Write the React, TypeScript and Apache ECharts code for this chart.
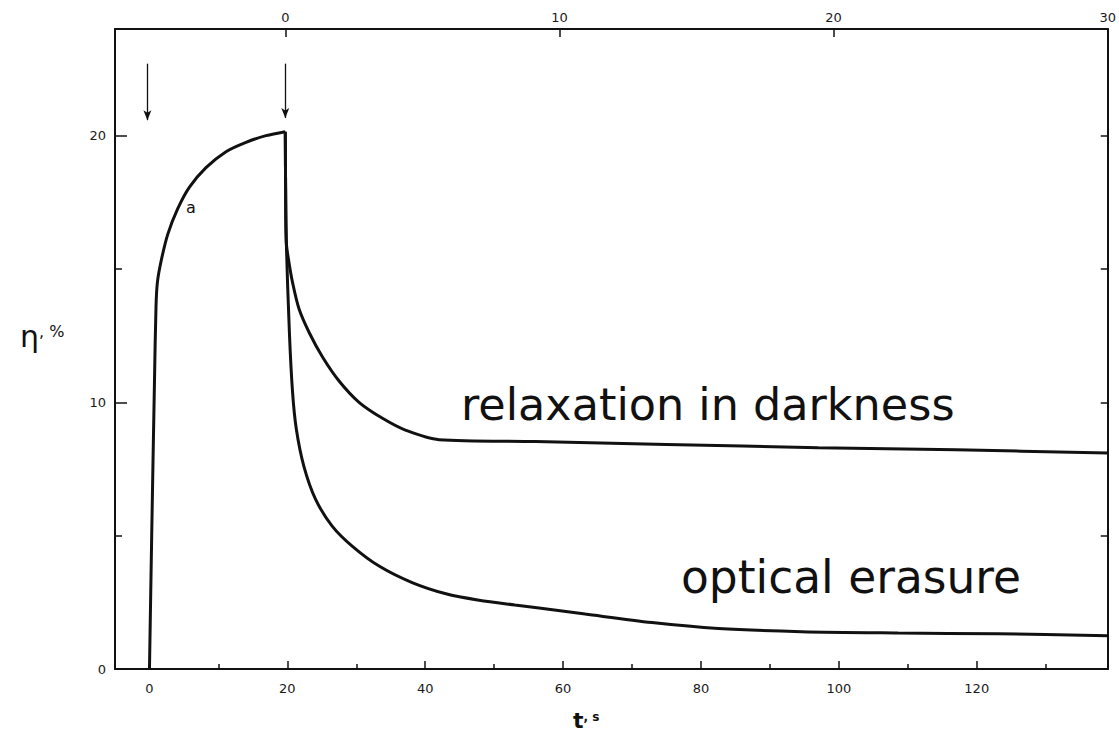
import { useEffect, useRef } from "react";
import * as echarts from "echarts";

// Diffraction efficiency η (%) versus time t (s)
// Writing: beam switched on at t = 0, off at t ≈ 19.7
const riseT = [0, 0.33, 0.72, 0.95, 1.15, 1.69, 2.65, 4.1, 5.8, 8.2, 11.1, 14.0, 16.9, 19.7];
const riseEta = [0, 5.1, 10.7, 13.6, 14.5, 15.3, 16.3, 17.26, 18.07, 18.8, 19.4, 19.75, 20.0, 20.15];

// Decay after switch-off, kept in the dark
const relaxT = [19.7, 19.75, 19.85, 20.2, 20.75, 21.7, 23.2, 25.1, 27.5, 30.4, 33.8, 37.2, 42, 56, 75, 97, 117, 139];
const relaxEta = [20.15, 18.0, 16.0, 15.3, 14.5, 13.5, 12.6, 11.7, 10.8, 10.0, 9.4, 8.95, 8.6, 8.53, 8.42, 8.3, 8.22, 8.1];

// Decay under erasing illumination
const eraseT = [19.7, 19.75, 19.85, 20.3, 20.75, 21.3, 22.4, 24.1, 26.5, 29.4, 33.3, 38.1, 43, 47.8, 53, 56.5, 63.2, 72.9, 82.5, 94.6, 108.6, 123, 139];
const eraseEta = [20.15, 18.0, 16.0, 12.6, 10.4, 9.0, 7.6, 6.36, 5.36, 4.61, 3.86, 3.24, 2.82, 2.58, 2.4, 2.29, 2.06, 1.74, 1.52, 1.4, 1.35, 1.32, 1.25];

// Switching instants marked by arrows (t, arrow tail η, arrow head η)
const arrowT = [-0.3, 19.7];
const arrowTail = [22.7, 22.7];
const arrowHead = [20.58, 20.66];

// Axis ranges and ticks
const X_MIN = -5;
const X_MAX = 139;
const Y_MIN = 0;
const Y_MAX = 24;
const bottomMajor = [0, 20, 40, 60, 80, 100, 120];
const bottomMinor = [10, 30, 50, 70, 90, 110, 130];
const bottomLabels = [0, 20, 40, 60, 80, 100, 120];
const topTicks = [0, 10, 20, 30];
const TOP_ZERO = 19.7; // upper time scale restarts at switch-off
const TOP_UNIT = (X_MAX - TOP_ZERO) / 30; // lower-scale seconds per upper unit
const leftMajor = [0, 10, 20];
const leftMinor = [5, 15];
const leftLabels = [0, 10, 20];
const rightTicks = [5, 10, 15, 20];

const zip = (xs: number[], ys: number[]) => xs.map((x, i) => [x, ys[i]]);

export default function App() {
  const ref = useRef<HTMLDivElement>(null);

  useEffect(() => {
    if (!ref.current) return;
    const chart = echarts.init(ref.current, null, { renderer: "svg" });
    const ink = "#111";
    const tickFont = { fontFamily: "DejaVu Sans", fontSize: 13, color: "#1a1a1a" };
    const axisLine = { show: true, onZero: false, lineStyle: { color: ink, width: 2 } };
    const hiddenLine = { show: false, onZero: false };
    const noSplit = { show: false };
    const tickStyle = { color: ink, width: 1.5 };
    const curve = {
      type: "line",
      showSymbol: false,
      smooth: 0.3,
      lineStyle: { color: ink, width: 3 },
      xAxisIndex: 0,
      yAxisIndex: 0,
      silent: true,
    };
    const bigText = { fontFamily: "DejaVu Sans", fill: "#111", verticalAlign: "bottom" };

    chart.setOption({
      animation: false,
      backgroundColor: "#ffffff",
      grid: { left: 115, right: 9, top: 29, bottom: 67 },
      xAxis: [
        {
          type: "value",
          position: "bottom",
          min: X_MIN,
          max: X_MAX,
          axisLine,
          splitLine: noSplit,
          axisTick: { show: true, inside: true, length: 8, customValues: bottomMajor, lineStyle: tickStyle },
          axisLabel: { customValues: bottomLabels, margin: 13, ...tickFont },
        },
        {
          type: "value",
          position: "bottom",
          min: X_MIN,
          max: X_MAX,
          axisLine: hiddenLine,
          splitLine: noSplit,
          axisTick: { show: true, inside: true, length: 5, customValues: bottomMinor, lineStyle: tickStyle },
          axisLabel: { show: false },
        },
        {
          type: "value",
          position: "top",
          min: (X_MIN - TOP_ZERO) / TOP_UNIT,
          max: 30,
          axisLine,
          splitLine: noSplit,
          axisTick: { show: true, inside: true, length: 8, customValues: topTicks, lineStyle: tickStyle },
          axisLabel: { customValues: topTicks, margin: 5, ...tickFont },
        },
      ],
      yAxis: [
        {
          type: "value",
          position: "left",
          min: Y_MIN,
          max: Y_MAX,
          axisLine,
          splitLine: noSplit,
          axisTick: { show: true, inside: true, length: 12, customValues: leftMajor, lineStyle: tickStyle },
          axisLabel: { customValues: leftLabels, margin: 9, ...tickFont },
        },
        {
          type: "value",
          position: "left",
          min: Y_MIN,
          max: Y_MAX,
          axisLine: hiddenLine,
          splitLine: noSplit,
          axisTick: { show: true, inside: true, length: 7, customValues: leftMinor, lineStyle: tickStyle },
          axisLabel: { show: false },
        },
        {
          type: "value",
          position: "right",
          min: Y_MIN,
          max: Y_MAX,
          axisLine,
          splitLine: noSplit,
          axisTick: { show: true, inside: true, length: 7, customValues: rightTicks, lineStyle: tickStyle },
          axisLabel: { show: false },
        },
      ],
      series: [
        {
          ...curve,
          name: "writing",
          data: zip(riseT, riseEta),
          markLine: {
            silent: true,
            symbol: ["none", "arrow"],
            symbolSize: [6, 10],
            label: { show: false },
            lineStyle: { color: ink, width: 1.3, type: "solid" },
            data: arrowT.map((t, i) => [{ coord: [t, arrowTail[i]] }, { coord: [t, arrowHead[i]] }]),
          },
        },
        { ...curve, name: "relaxation in darkness", data: zip(relaxT, relaxEta) },
        { ...curve, name: "optical erasure", data: zip(eraseT, eraseEta) },
      ],
      graphic: [
        {
          type: "text",
          left: 186,
          top: 199,
          style: { text: "a", fontFamily: "DejaVu Sans", fontSize: 16, fill: ink },
        },
        {
          type: "text",
          x: 461,
          y: 427,
          style: { text: "relaxation in darkness", fontSize: 44.5, ...bigText },
        },
        {
          type: "text",
          x: 681,
          y: 600,
          style: { text: "optical erasure", fontSize: 45.5, ...bigText },
        },
        {
          type: "text",
          x: 20,
          y: 336,
          style: {
            text: "{e|η}{p|, %}",
            verticalAlign: "middle",
            rich: {
              e: { fontFamily: "DejaVu Sans", fontSize: 30, fill: ink },
              p: { fontFamily: "DejaVu Sans", fontSize: 16, fill: ink, padding: [0, 0, 10, 0] },
            },
          },
        },
        {
          type: "text",
          x: 573,
          y: 720,
          style: {
            text: "{t|t}{s|, s}",
            verticalAlign: "middle",
            rich: {
              t: { fontFamily: "DejaVu Sans", fontSize: 22, fontWeight: "bold", fill: ink },
              s: { fontFamily: "DejaVu Sans", fontSize: 12, fontWeight: "bold", fill: ink, padding: [0, 0, 6, 0] },
            },
          },
        },
      ],
    });

    return () => chart.dispose();
  }, []);

  return (
    <div
      ref={ref}
      style={{ position: "fixed", left: 0, top: 0, width: 1119, height: 736, background: "#fff" }}
    />
  );
}
